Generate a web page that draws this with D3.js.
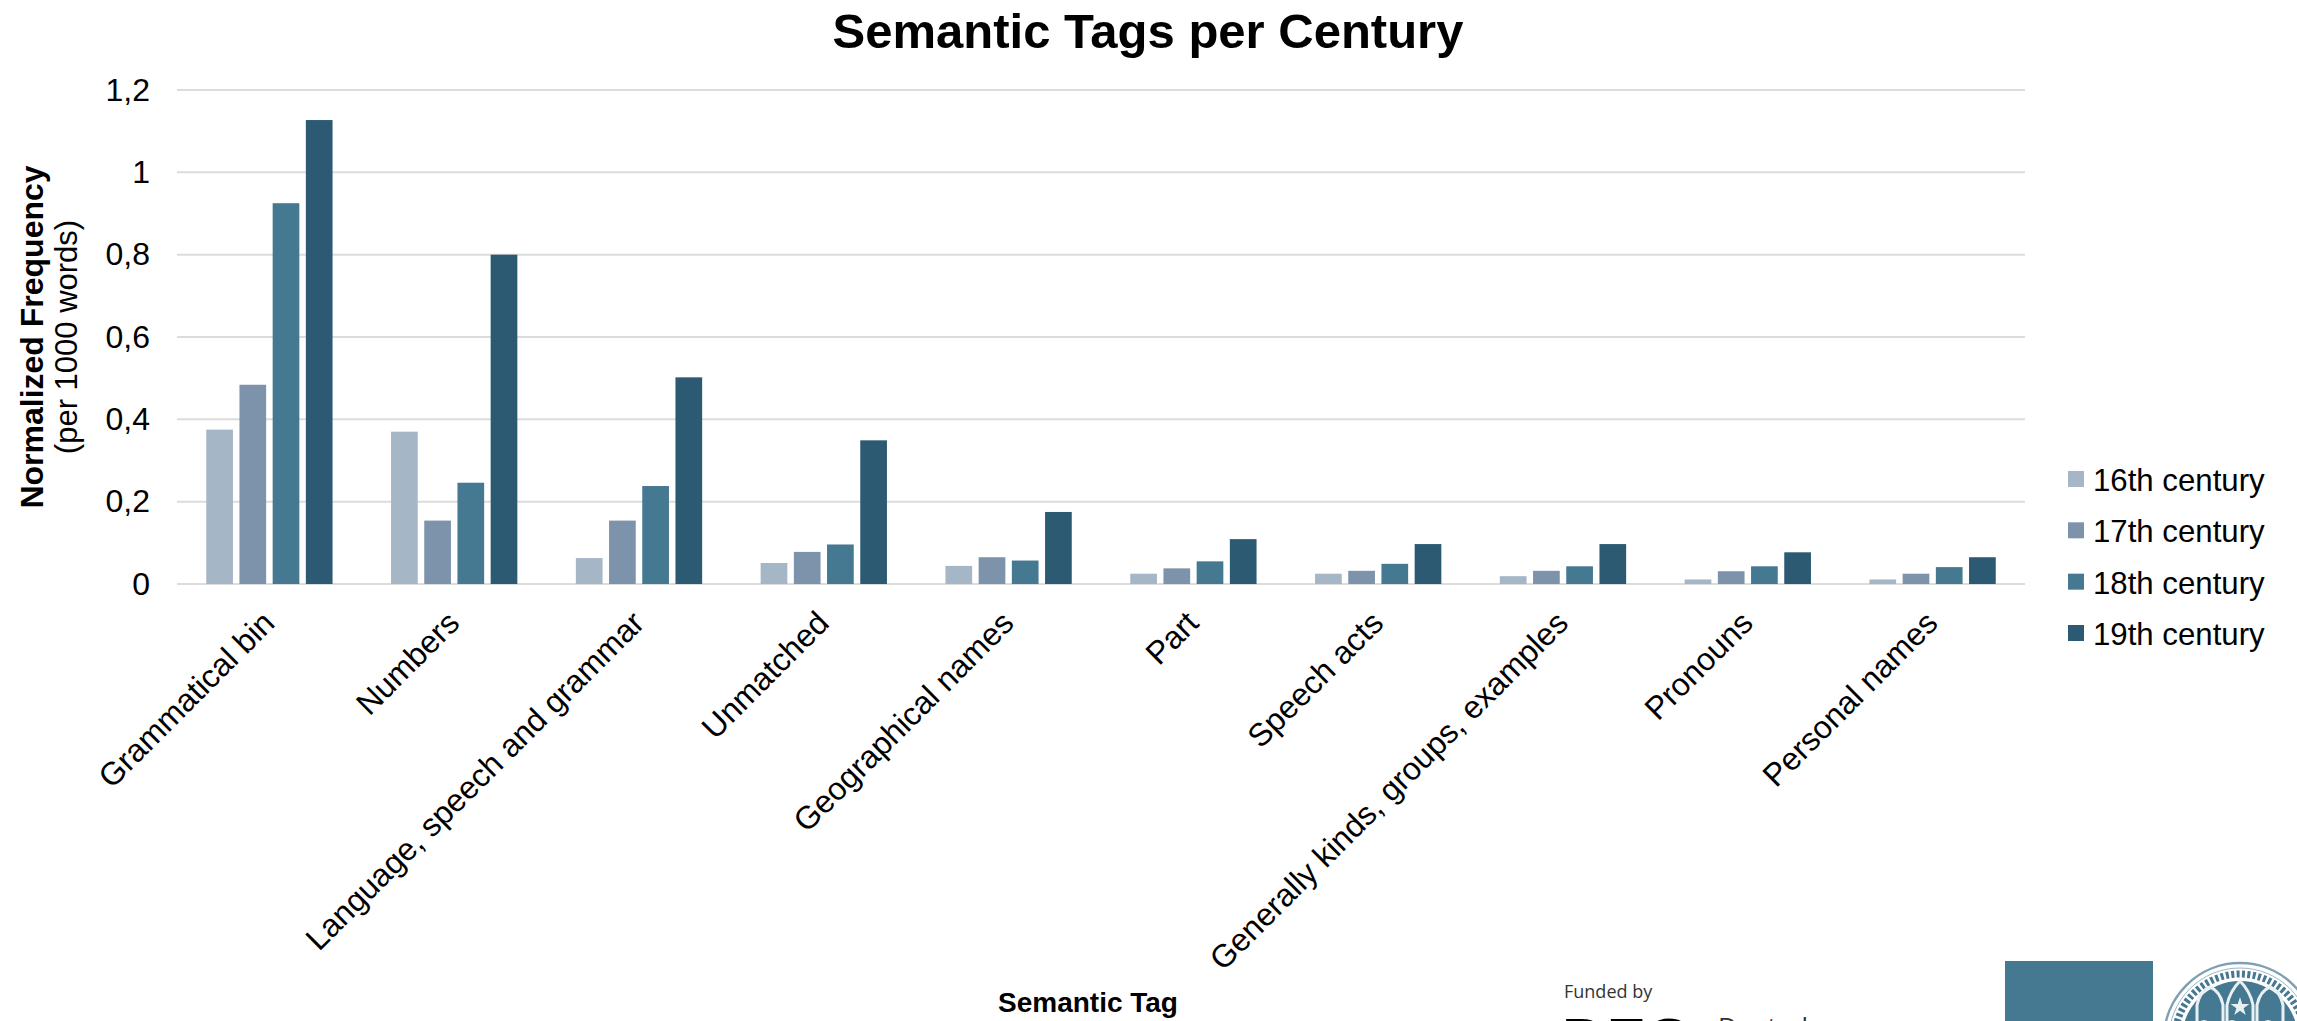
<!DOCTYPE html>
<html lang="en">
<head>
  <meta charset="UTF-8">
  <title>Semantic Tags per Century</title>
  <script src="https://d3js.org/d3.v7.min.js"></script>
  <style>
    html, body { margin: 0; padding: 0; background: #fff; overflow: hidden; }
    svg { display: block; font-family: "Liberation Sans", Arial, sans-serif; }
    .axis path, .axis line { display: none; }
    .axis text { font-size: 32px; fill: #000; font-family: "Liberation Sans", Arial, sans-serif; }
    .grid { stroke: #dcdcdc; stroke-width: 2px; }
    .legend-label { font-size: 31.2px; fill: #000; }
  </style>
</head>
<body>
  <svg width="2297" height="1021"></svg>
  <script>
    const categories = [
      "Grammatical bin", "Numbers", "Language, speech and grammar", "Unmatched",
      "Geographical names", "Part", "Speech acts",
      "Generally kinds, groups, examples", "Pronouns", "Personal names"
    ];
    const centuries = ["16th century", "17th century", "18th century", "19th century"];
    const c16 = [0.375, 0.370, 0.063, 0.051, 0.044, 0.025, 0.025, 0.019, 0.011, 0.011];
    const c17 = [0.484, 0.154, 0.154, 0.078, 0.065, 0.038, 0.032, 0.032, 0.031, 0.025];
    const c18 = [0.925, 0.246, 0.238, 0.096, 0.057, 0.055, 0.049, 0.043, 0.043, 0.041];
    const c19 = [1.127, 0.800, 0.502, 0.349, 0.175, 0.109, 0.097, 0.097, 0.077, 0.065];
    const seriesValues = [c16, c17, c18, c19];
    const yTicks = [0, 0.2, 0.4, 0.6, 0.8, 1, 1.2];
    const colors = ["#a5b6c7", "#7d93ab", "#457891", "#2b5a72"];

    const svg = d3.select("svg");

    const x = d3.scaleBand().domain(categories).range([177, 2025]);
    const xSub = d3.scaleBand().domain(centuries)
      .range([0, x.bandwidth()])
      .paddingInner(0.196)
      .paddingOuter(0.881);
    const y = d3.scaleLinear().domain([0, 1.2]).range([584, 90]);

    // gridlines sit under the bars
    svg.append("g").selectAll("line")
      .data(yTicks)
      .join("line")
      .attr("class", "grid")
      .attr("x1", 177).attr("x2", 2025)
      .attr("y1", d => y(d)).attr("y2", d => y(d));

    centuries.forEach((name, s) => {
      svg.append("g")
        .attr("fill", colors[s])
        .selectAll("rect")
        .data(seriesValues[s])
        .join("rect")
        .attr("x", (d, i) => x(categories[i]) + xSub(name))
        .attr("y", d => y(d))
        .attr("width", xSub.bandwidth())
        .attr("height", d => y(0) - y(d));
    });

    const yAxis = d3.axisLeft(y)
      .tickValues(yTicks)
      .tickSize(0)
      .tickPadding(0)
      .tickFormat(d => String(d).replace(".", ","));
    svg.append("g")
      .attr("class", "axis")
      .attr("transform", "translate(150,0)")
      .call(yAxis);

    const xAxis = d3.axisBottom(x).tickSize(0).tickPadding(0);
    svg.append("g")
      .attr("class", "axis")
      .attr("transform", "translate(0,584)")
      .call(xAxis)
      .selectAll("text")
      .attr("text-anchor", "end")
      .attr("dy", "0")
      .attr("y", 0)
      .attr("transform", "translate(7,41) rotate(-45)");

    svg.append("text")
      .attr("x", 1148).attr("y", 48)
      .attr("text-anchor", "middle")
      .attr("font-size", 49).attr("font-weight", "bold")
      .text("Semantic Tags per Century");

    svg.append("text")
      .attr("transform", "translate(43,337) rotate(-90)")
      .attr("text-anchor", "middle")
      .attr("font-size", 32).attr("font-weight", "bold")
      .text("Normalized Frequency");
    svg.append("text")
      .attr("transform", "translate(77,337) rotate(-90)")
      .attr("text-anchor", "middle")
      .attr("font-size", 31)
      .text("(per 1000 words)");

    svg.append("text")
      .attr("x", 1088).attr("y", 1012)
      .attr("text-anchor", "middle")
      .attr("font-size", 28).attr("font-weight", "bold")
      .text("Semantic Tag");

    // legend
    const legendY = d3.scalePoint().domain(centuries).range([479, 633]);
    const legend = svg.append("g").selectAll("g")
      .data(centuries)
      .join("g")
      .attr("transform", d => `translate(2068,${legendY(d)})`);
    legend.append("rect")
      .attr("y", -8).attr("width", 16).attr("height", 16)
      .attr("fill", (d, i) => colors[i]);
    legend.append("text")
      .attr("class", "legend-label")
      .attr("x", 25).attr("y", 12)
      .text(d => d);

    // funder block, runs off the bottom edge
    svg.append("text")
      .attr("x", 1564).attr("y", 998)
      .attr("font-family", "'Open Sans'").attr("font-size", 18)
      .attr("fill", "#333")
      .text("Funded by");
    svg.append("text")
      .attr("x", 1562).attr("y", 1061)
      .attr("font-size", 62).attr("font-weight", "bold")
      .text("DFG");
    svg.append("text")
      .attr("x", 1718).attr("y", 1036)
      .attr("font-family", "'Open Sans'").attr("font-size", 26)
      .attr("fill", "#333")
      .text("Deutsche");

    // university mark: teal block and seal
    svg.append("rect")
      .attr("x", 2005).attr("y", 961)
      .attr("width", 148).attr("height", 60)
      .attr("fill", "#457891");

    const defs = svg.append("defs");
    defs.append("filter").attr("id", "soft")
      .append("feGaussianBlur").attr("stdDeviation", 0.7);

    const seal = svg.append("g")
      .attr("transform", "translate(2240,1039)")
      .attr("filter", "url(#soft)");
    seal.append("circle").attr("r", 76).attr("fill", "#fff")
      .attr("stroke", "#7fa0b2").attr("stroke-width", 2.5);
    seal.append("circle").attr("r", 71).attr("fill", "none")
      .attr("stroke", "#9fb7c4").attr("stroke-width", 1);
    // lettering of the ring, reduced to short strokes
    seal.append("circle").attr("r", 65).attr("fill", "none")
      .attr("stroke", "#457891").attr("stroke-width", 7)
      .attr("stroke-dasharray", "3 2.4");
    seal.append("circle").attr("r", 58).attr("fill", "#457891");

    // three gothic arches with a star in the middle one
    const arches = [-30, 0, 30];
    seal.selectAll("path.arch")
      .data(arches)
      .join("path")
      .attr("class", "arch")
      .attr("d", d => `M${d - 13},-18 L${d - 13},-34 Q${d - 10},-48 ${d},${d === 0 ? -58 : -52} Q${d + 10},-48 ${d + 13},-34 L${d + 13},-18`)
      .attr("fill", "none")
      .attr("stroke", "#e8f0f4")
      .attr("stroke-width", 3);
    seal.append("path")
      .attr("d", d3.symbol(d3.symbolStar, 110))
      .attr("transform", "translate(0,-32)")
      .attr("fill", "#e8f0f4");
    // figures at the bottom of the seal
    seal.selectAll("ellipse")
      .data([-36, -8, 28])
      .join("ellipse")
      .attr("cx", d => d).attr("cy", -8)
      .attr("rx", 8).attr("ry", 11)
      .attr("fill", "#dfe9ee");
  </script>
</body>
</html>
